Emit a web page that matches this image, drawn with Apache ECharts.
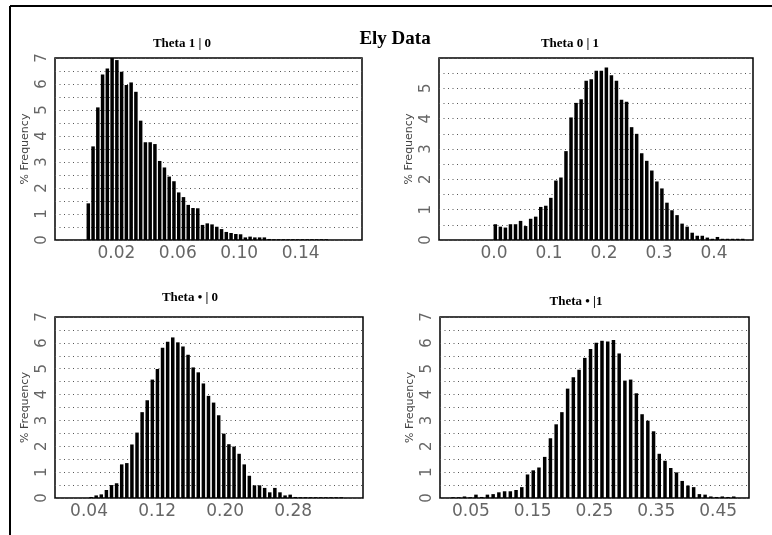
<!DOCTYPE html>
<html><head><meta charset="utf-8">
<script src="https://cdn.jsdelivr.net/npm/echarts@6/dist/echarts.min.js"></script>
<style>html,body{margin:0;padding:0;background:#fff}#c{width:772px;height:535px}</style>
</head><body><div id="c"></div>
<script>
// ---- data ----
const chartTitle = 'Ely Data';
const panelTitles = ['Theta 1 | 0', 'Theta 0 | 1', 'Theta \u2022 | 0', 'Theta \u2022 |1'];
const yName = '% Frequency';

// histogram bin starts (centre of first bar) and bin widths
const binStart = [0.0017, 0.0024, 0.0424, 0.0211];
const binWidth = [0.0031, 0.00918, 0.006, 0.00927];

// % frequency per bin
const theta10 = [1.41, 3.6, 5.1, 6.37, 6.6, 7.0, 6.92, 6.47, 5.96, 6.06, 5.7, 4.59, 3.76, 3.76, 3.69, 3.04,
  2.79, 2.44, 2.26, 1.83, 1.65, 1.35, 1.23, 1.22, 0.58, 0.64, 0.6, 0.51, 0.42, 0.31, 0.27, 0.23, 0.22,
  0.1, 0.13, 0.1, 0.1, 0.1, 0.04, 0.03, 0.03, 0.03, 0.03, 0.03, 0.03, 0.03, 0.03, 0.03, 0.03, 0.03, 0.03];
const theta01 = [0.52, 0.44, 0.41, 0.52, 0.52, 0.63, 0.46, 0.70, 0.77, 1.09, 1.13, 1.39, 1.96, 2.06, 2.93,
  4.04, 4.52, 4.64, 5.25, 5.30, 5.58, 5.58, 5.69, 5.43, 5.25, 4.62, 4.56, 3.72, 3.50, 2.86, 2.61, 2.29,
  1.93, 1.70, 1.23, 0.98, 0.82, 0.54, 0.44, 0.24, 0.14, 0.14, 0.08, 0.04, 0.10, 0.04, 0.04, 0.04, 0.04, 0.04];
const thetaDot0 = [0.04, 0.10, 0.14, 0.31, 0.50, 0.57, 1.30, 1.35, 2.07, 2.53, 3.32, 3.78, 4.58, 4.99, 5.81,
  6.04, 6.21, 6.02, 5.86, 5.54, 5.05, 4.86, 4.43, 3.95, 3.69, 3.20, 2.49, 2.08, 1.99, 1.71, 1.30, 0.86,
  0.49, 0.49, 0.39, 0.22, 0.39, 0.22, 0.10, 0.13, 0.04, 0.03, 0.03, 0.03, 0.03, 0.03, 0.03, 0.03, 0.03, 0.03];
const thetaDot1 = [0.03, 0.03, 0.06, 0.03, 0.13, 0.04, 0.13, 0.15, 0.22, 0.26, 0.26, 0.31, 0.42, 0.91, 1.07,
  1.18, 1.59, 2.31, 2.85, 3.32, 4.23, 4.67, 4.96, 5.42, 5.76, 6.0, 6.08, 6.05, 6.11, 5.59, 4.54, 4.58,
  4.05, 3.24, 2.99, 2.58, 1.71, 1.44, 1.16, 0.99, 0.66, 0.48, 0.42, 0.15, 0.13, 0.06, 0.04, 0.06, 0.04, 0.06];

// axes
const xMin = [-0.02, -0.1, 0, 0];
const xMax = [0.18, 0.471, 0.362, 0.5];
const xInterval = [0.02, 0.1, 0.04, 0.05];
const xDecimals = [2, 1, 2, 2];
const xTickLabels = [
  ['0.02', '0.06', '0.10', '0.14'],
  ['0.0', '0.1', '0.2', '0.3', '0.4'],
  ['0.04', '0.12', '0.20', '0.28'],
  ['0.05', '0.15', '0.25', '0.35', '0.45']
];
const yMax = [7, 6, 7, 7];
const yTickLabels = [
  ['0', '1', '2', '3', '4', '5', '6', '7'],
  ['0', '1', '2', '3', '4', '5'],
  ['0', '1', '2', '3', '4', '5', '6', '7'],
  ['0', '1', '2', '3', '4', '5', '6', '7']
];

// ---- layout ----
const series = [theta10, theta01, thetaDot0, thetaDot1];
const grids = [
  {left: 55, top: 58, width: 307, height: 182},
  {left: 439, top: 58, width: 314, height: 182},
  {left: 55, top: 317, width: 308, height: 181},
  {left: 440, top: 317, width: 309, height: 181}
];
const titlePos = [[182, 44], [570, 44], [190, 298], [576, 302]];

const chart = echarts.init(document.getElementById('c'), null, {renderer: 'canvas'});
const labelColor = '#666';
const option = {
  animation: false,
  backgroundColor: '#fff',
  grid: grids.map(g => Object.assign({show: true, borderColor: '#000', borderWidth: 1.5, backgroundColor: 'transparent'}, g)),
  xAxis: grids.map((g, i) => ({
    type: 'value', gridIndex: i, min: xMin[i], max: xMax[i], interval: xInterval[i],
    axisLine: {show: false}, axisTick: {show: false}, splitLine: {show: false},
    axisLabel: {
      show: true, color: labelColor, fontFamily: 'DejaVu Sans', fontSize: 17, margin: 5,
      showMinLabel: true, showMaxLabel: true, hideOverlap: false,
      formatter: v => { const r = Math.round(v * 1e6) / 1e6; const s = (r + 0).toFixed(xDecimals[i]); return xTickLabels[i].includes(s) ? s : ''; }
    }
  })),
  yAxis: grids.map((g, i) => ({
    type: 'value', gridIndex: i, min: 0, max: yMax[i], interval: 0.5,
    name: yName, nameLocation: 'middle', nameGap: 24, nameRotate: 90,
    nameTextStyle: {color: '#444', fontFamily: 'DejaVu Sans', fontSize: 11},
    axisLine: {show: false}, axisTick: {show: false},
    splitLine: {show: true, lineStyle: {type: [1, 3.5], color: '#555', width: 1}},
    axisLabel: {
      show: true, rotate: 90, color: labelColor, fontFamily: 'DejaVu Sans', fontSize: 15, margin: 5,
      showMinLabel: true, showMaxLabel: true, hideOverlap: false,
      formatter: v => { const s = String(Math.round(v * 1e6) / 1e6); return yTickLabels[i].includes(s) ? s : ''; }
    }
  })),
  series: series.map((vals, i) => ({
    type: 'bar', xAxisIndex: i, yAxisIndex: i, barWidth: 3.5,
    itemStyle: {color: '#000'},
    data: vals.map((v, k) => [binStart[i] + k * binWidth[i], v])
  })),
  graphic: [
    {type: 'line', shape: {x1: 10, y1: 6, x2: 772, y2: 6}, style: {stroke: '#000', lineWidth: 2}, silent: true},
    {type: 'line', shape: {x1: 10, y1: 6, x2: 10, y2: 535}, style: {stroke: '#000', lineWidth: 2}, silent: true},
    {type: 'text', x: 395, y: 39, style: {text: chartTitle, font: 'bold 19px "Liberation Serif"', fill: '#000', align: 'center', verticalAlign: 'middle'}, silent: true}
  ].concat(panelTitles.map((t, i) => ({
    type: 'text', x: titlePos[i][0], y: titlePos[i][1],
    style: {text: t, font: 'bold 13px "Liberation Serif"', fill: '#000', align: 'center', verticalAlign: 'middle'}, silent: true
  })))
};
chart.setOption(option);
</script>
</body></html>
